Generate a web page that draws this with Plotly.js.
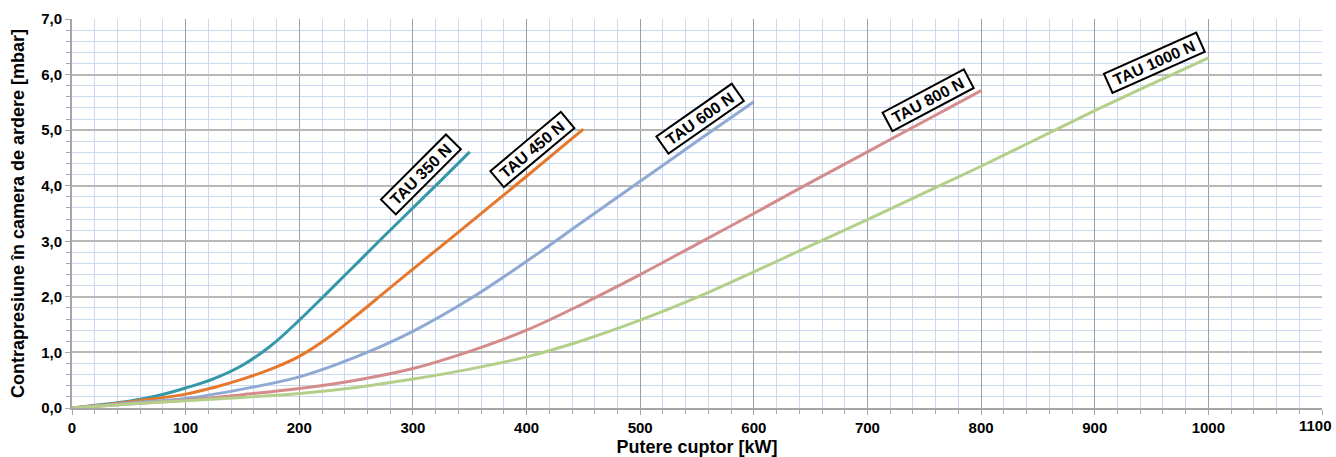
<!DOCTYPE html>
<html>
<head>
<meta charset="utf-8">
<script src="https://cdn.plot.ly/plotly-3.0.1.min.js"></script>
<style>html,body{margin:0;padding:0;background:#fff;}#chart{width:1336px;height:457px;}</style>
</head>
<body>
<div id="chart"></div>
<script>
// ---- data ----
const seriesNames = ["TAU 350 N", "TAU 450 N", "TAU 600 N", "TAU 800 N", "TAU 1000 N"];

const x350 = [0, 25, 50, 75, 100, 125, 150, 175, 200, 225, 250, 275, 300, 325, 350];
const y350 = [0, 0.06, 0.12, 0.22, 0.36, 0.53, 0.77, 1.12, 1.58, 2.08, 2.59, 3.10, 3.60, 4.10, 4.61];

const x450 = [0, 50, 100, 125, 150, 175, 200, 225, 250, 275, 300, 350, 400, 450];
const y450 = [0, 0.11, 0.25, 0.37, 0.52, 0.70, 0.93, 1.26, 1.66, 2.08, 2.50, 3.33, 4.17, 5.02];

const x600 = [0, 50, 100, 150, 200, 250, 300, 350, 400, 450, 500, 550, 600];
const y600 = [0, 0.09, 0.17, 0.34, 0.56, 0.92, 1.38, 1.96, 2.64, 3.36, 4.08, 4.80, 5.51];

const x800 = [0, 50, 100, 150, 200, 250, 300, 350, 400, 450, 500, 550, 600, 650, 700, 750, 800];
const y800 = [0, 0.07, 0.14, 0.24, 0.35, 0.50, 0.71, 1.02, 1.40, 1.88, 2.40, 2.95, 3.50, 4.06, 4.61, 5.16, 5.71];

const x1000 = [0, 50, 100, 150, 200, 250, 300, 350, 400, 450, 500, 550, 600, 650, 700, 750, 800, 850, 900, 950, 1000];
const y1000 = [0, 0.07, 0.13, 0.19, 0.26, 0.37, 0.52, 0.70, 0.92, 1.22, 1.58, 1.99, 2.45, 2.92, 3.39, 3.87, 4.35, 4.85, 5.35, 5.83, 6.30];

// x-axis tick values and labels
const xTickVals = [0, 100, 200, 300, 400, 500, 600, 700, 800, 900, 1000, 1100];
const xTickText = ["0", "100", "200", "300", "400", "500", "600", "700", "800", "900", "1000", "1100"];

// label anchor points for the boxed series names
const labelX = [307, 405, 553, 753, 953];
const labelY = [4.20, 4.66, 5.21, 5.54, 6.21];
const labelAngle = [-45, -40, -35, -28, -24];

const xTitle = "Putere cuptor [kW]";
const yTitle = "Contrapresiune în camera de ardere [mbar]";

// ---- styling ----
const colors = ["#3598a8", "#e6782c", "#8fa9d3", "#d38c8b", "#b3cf8a"];
const FONT = "Liberation Sans, Arial, Helvetica, sans-serif";
const tickFont = {family: FONT, size: 15, color: "#000", weight: "bold"};

const xs = [x350, x450, x600, x800, x1000];
const ys = [y350, y450, y600, y800, y1000];

const traces = xs.map((xv, i) => ({
  type: "scatter",
  mode: "lines",
  x: xv,
  y: ys[i],
  name: seriesNames[i],
  line: {color: colors[i], width: 3, shape: "spline", smoothing: 1.0},
  hoverinfo: "skip"
}));

const annotations = seriesNames.map((t, i) => ({
  x: labelX[i], y: labelY[i], xref: "x", yref: "y",
  text: "&nbsp;" + t + "&nbsp;", showarrow: false, textangle: labelAngle[i],
  font: {family: FONT, size: 16, color: "#000", weight: "bold"},
  bgcolor: "#ffffff", bordercolor: "#000000", borderwidth: 2, borderpad: 1
}));

// last x tick label kept inside the page (like the reference), drawn as an annotation
const lastIdx = xTickVals.length - 1;
annotations.push({
  x: xTickVals[lastIdx], xref: "x", y: 0, yref: "paper",
  text: xTickText[lastIdx], showarrow: false,
  xanchor: "right", yanchor: "top", xshift: 12, yshift: -7,
  font: tickFont
});
const shownTickText = xTickText.map((t, i) => (i === lastIdx ? "" : t));

const layout = {
  width: 1336, height: 457,
  margin: {l: 72, r: 14, t: 19, b: 49},
  paper_bgcolor: "#ffffff", plot_bgcolor: "#ffffff",
  showlegend: false,
  separators: ",.",
  font: {family: FONT, size: 15, color: "#000"},
  xaxis: {
    range: [0, 1100], tickmode: "array", tickvals: xTickVals, ticktext: shownTickText,
    showline: true, linecolor: "#a6a6a6", linewidth: 2,
    ticks: "outside", ticklen: 5, tickcolor: "#a6a6a6", tickwidth: 1,
    showgrid: true, gridcolor: "#a0a0a0", gridwidth: 1,
    zeroline: false,
    minor: {dtick: 20, tick0: 0, showgrid: true, gridcolor: "#c9daf2", gridwidth: 1, ticks: "outside", ticklen: 4, tickcolor: "#a6a6a6"},
    tickfont: tickFont,
    title: {text: xTitle, font: {family: FONT, size: 18, color: "#000", weight: "bold"}, standoff: 5},
    automargin: false,
    fixedrange: true
  },
  yaxis: {
    range: [0, 7], dtick: 1, tick0: 0, tickformat: ".1f",
    showline: true, linecolor: "#a6a6a6", linewidth: 2,
    ticks: "outside", ticklen: 5, tickcolor: "#a6a6a6", tickwidth: 1,
    showgrid: true, gridcolor: "#b8b8b8", gridwidth: 2,
    zeroline: false,
    minor: {dtick: 0.2, showgrid: true, gridcolor: "#c9daf2", gridwidth: 1, ticks: "outside", ticklen: 4, tickcolor: "#a6a6a6"},
    tickfont: tickFont,
    title: {text: yTitle, font: {family: FONT, size: 18, color: "#000", weight: "bold"}, standoff: 12},
    automargin: false,
    fixedrange: true
  },
  annotations: annotations
};

Plotly.newPlot("chart", traces, layout, {displayModeBar: false, staticPlot: true});
</script>
</body>
</html>
